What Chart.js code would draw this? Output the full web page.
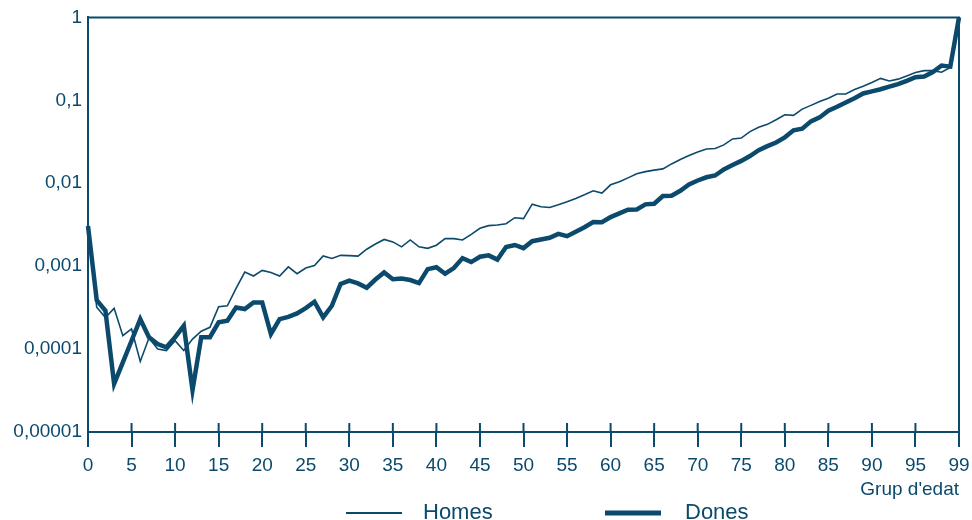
<!DOCTYPE html>
<html lang="ca">

<head>
    <meta charset="UTF-8">
    <script src="https://cdn.jsdelivr.net/npm/chart.js@4"></script>
    <title>Mortalitat per edat</title>
    <style>
        body { margin: 0; background: #fff; }
        #wrap { width: 972px; height: 520px; position: relative; }
    </style>
</head>

<body>
    <div id="wrap"><canvas id="myChart"></canvas></div>
    <script>
        // edats (l'ultim punt es el grup obert, etiquetat 99)
        var ages = [0, 1, 2, 3, 4, 5, 6, 7, 8, 9, 10, 11, 12, 13, 14, 15, 16, 17, 18, 19,
            20, 21, 22, 23, 24, 25, 26, 27, 28, 29, 30, 31, 32, 33, 34, 35, 36, 37, 38, 39,
            40, 41, 42, 43, 44, 45, 46, 47, 48, 49, 50, 51, 52, 53, 54, 55, 56, 57, 58, 59,
            60, 61, 62, 63, 64, 65, 66, 67, 68, 69, 70, 71, 72, 73, 74, 75, 76, 77, 78, 79,
            80, 81, 82, 83, 84, 85, 86, 87, 88, 89, 90, 91, 92, 93, 94, 95, 96, 97, 98, 99, 100];

        var homes = [0.0030, 0.00032, 0.00024, 0.00031, 0.000145, 0.000175, 0.000071, 0.000136, 0.00010, 0.000096,
            0.000126, 0.000096, 0.000132, 0.000164, 0.000183, 0.000324, 0.000333, 0.00054, 0.00085, 0.00076,
            0.00089, 0.00084, 0.00076, 0.00098, 0.00081, 0.00095, 0.00102, 0.00133, 0.00124, 0.00135,
            0.00134, 0.00132, 0.0016, 0.00185, 0.0021, 0.00196, 0.00171, 0.00207, 0.00171, 0.00164,
            0.00179, 0.00215, 0.00215, 0.00207, 0.00242, 0.00286, 0.00308, 0.00314, 0.00325, 0.00384,
            0.00375, 0.0056, 0.0052, 0.0051, 0.0055, 0.00597, 0.00656, 0.00726, 0.0081, 0.0076,
            0.00957, 0.0104, 0.0116, 0.0130, 0.0138, 0.0144, 0.0149, 0.0171, 0.0193, 0.0216,
            0.0238, 0.0259, 0.0262, 0.029, 0.0342, 0.0351, 0.0419, 0.0472, 0.0513, 0.0584,
            0.067, 0.0658, 0.0784, 0.0869, 0.097, 0.106, 0.119, 0.119, 0.135, 0.148,
            0.164, 0.184, 0.171, 0.180, 0.197, 0.216, 0.228, 0.228, 0.218, 0.249, 1];

        var dones = [0.00305, 0.00039, 0.00029, 0.000038, 0.000069, 0.000126, 0.00023, 0.000139, 0.000115, 0.000105,
            0.000139, 0.000191, 0.000032, 0.000139, 0.000139, 0.00021, 0.00022, 0.000318, 0.000304, 0.000365,
            0.000365, 0.000152, 0.00023, 0.000245, 0.000269, 0.000312, 0.000372, 0.000241, 0.000333, 0.00061,
            0.00067, 0.00062, 0.00055, 0.00069, 0.00084, 0.000697, 0.00071, 0.00068, 0.000624, 0.00092,
            0.00097, 0.00081, 0.00095, 0.00125, 0.00112, 0.0013, 0.00135, 0.0012, 0.0017, 0.0018,
            0.00165, 0.0020, 0.0021, 0.0022, 0.00245, 0.0023, 0.0026, 0.00295, 0.0034, 0.00338,
            0.00391, 0.00433, 0.00479, 0.00483, 0.00556, 0.00566, 0.0070, 0.00706, 0.0081, 0.00967,
            0.0108, 0.0118, 0.0124, 0.0147, 0.0166, 0.0186, 0.0213, 0.025, 0.028, 0.031,
            0.0358, 0.0435, 0.0455, 0.0557, 0.0622, 0.0749, 0.0837, 0.0944, 0.106, 0.121,
            0.128, 0.136, 0.146, 0.157, 0.172, 0.190, 0.194, 0.219, 0.263, 0.255, 1];

        var xTicks = [0, 5, 10, 15, 20, 25, 30, 35, 40, 45, 50, 55, 60, 65, 70, 75, 80, 85, 90, 95, 100];
        var xTickLabels = ['0', '5', '10', '15', '20', '25', '30', '35', '40', '45', '50', '55', '60', '65', '70', '75', '80', '85', '90', '95', '99'];
        var yTicks = [0.00001, 0.0001, 0.001, 0.01, 0.1, 1];
        var yTickLabels = ['0,00001', '0,0001', '0,001', '0,01', '0,1', '1'];

        var blue = '#0b4a6c';
        Chart.defaults.font.family = '"Liberation Sans", Arial, sans-serif';
        Chart.defaults.color = blue;

        function pairs(values) {
            return ages.map(function (a, i) { return { x: a, y: values[i] }; });
        }

        // marc superior/dret, part interior de les marques i llegenda
        var extras = {
            id: 'extras',
            afterDraw: function (chart) {
                var ctx = chart.ctx;
                var area = chart.chartArea;
                var xs = chart.scales.x;
                ctx.save();
                ctx.strokeStyle = blue;
                ctx.lineWidth = 2;
                ctx.beginPath();
                ctx.moveTo(area.left, area.top);
                ctx.lineTo(area.right, area.top);
                ctx.lineTo(area.right, area.bottom);
                xTicks.forEach(function (t) {
                    var px = xs.getPixelForValue(t);
                    ctx.moveTo(px, area.bottom);
                    ctx.lineTo(px, area.bottom - 9);
                });
                ctx.stroke();

                // llegenda
                var ly = 513;
                ctx.lineWidth = 2;
                ctx.beginPath();
                ctx.moveTo(346, ly);
                ctx.lineTo(402, ly);
                ctx.stroke();
                ctx.lineWidth = 5;
                ctx.beginPath();
                ctx.moveTo(605, ly);
                ctx.lineTo(661, ly);
                ctx.stroke();
                ctx.fillStyle = blue;
                ctx.font = '22px "Liberation Sans", Arial, sans-serif';
                ctx.textBaseline = 'middle';
                ctx.textAlign = 'left';
                ctx.fillText(chart.data.datasets[0].label, 423, ly);
                ctx.fillText(chart.data.datasets[1].label, 685, ly);
                ctx.restore();
            }
        };

        var ctx = document.getElementById('myChart').getContext('2d');
        var myChart = new Chart(ctx, {
            type: 'line',
            data: {
                datasets: [{
                    label: 'Homes',
                    data: pairs(homes),
                    borderColor: blue,
                    borderWidth: 1.6,
                    pointRadius: 0,
                    tension: 0,
                    borderJoinStyle: 'miter',
                    clip: false
                }, {
                    label: 'Dones',
                    data: pairs(dones),
                    borderColor: blue,
                    borderWidth: 4.5,
                    pointRadius: 0,
                    tension: 0,
                    borderJoinStyle: 'miter',
                    clip: false
                }]
            },
            plugins: [extras],
            options: {
                responsive: true,
                maintainAspectRatio: false,
                animation: false,
                layout: { padding: { top: 16, right: 13, bottom: 0, left: 0 } },
                plugins: {
                    legend: { display: false },
                    tooltip: { enabled: false }
                },
                scales: {
                    x: {
                        type: 'linear',
                        min: 0,
                        max: 100,
                        afterBuildTicks: function (scale) {
                            scale.ticks = xTicks.map(function (v) { return { value: v }; });
                        },
                        afterFit: function (scale) {
                            scale.height = 88;
                            scale.paddingLeft = 0;
                            scale.paddingRight = 0;
                        },
                        ticks: {
                            autoSkip: false,
                            maxRotation: 0,
                            padding: 7,
                            font: { size: 19 },
                            callback: function (v) { return xTickLabels[xTicks.indexOf(v)]; }
                        },
                        grid: {
                            drawOnChartArea: false,
                            drawTicks: true,
                            tickLength: 15,
                            color: blue,
                            lineWidth: 2
                        },
                        border: { color: blue, width: 2 },
                        title: {
                            display: true,
                            text: "Grup d'edat",
                            align: 'end',
                            font: { size: 19 },
                            padding: { top: 0, bottom: 19 }
                        }
                    },
                    y: {
                        type: 'logarithmic',
                        min: 0.00001,
                        max: 1,
                        afterBuildTicks: function (scale) {
                            scale.ticks = yTicks.map(function (v) { return { value: v }; });
                        },
                        afterFit: function (scale) { scale.width = 88; },
                        ticks: {
                            padding: 6,
                            font: { size: 19 },
                            callback: function (v) { return yTickLabels[yTicks.indexOf(v)]; }
                        },
                        grid: { display: false, drawTicks: false },
                        border: { color: blue, width: 2 }
                    }
                }
            }
        });
    </script>
</body>

</html>
